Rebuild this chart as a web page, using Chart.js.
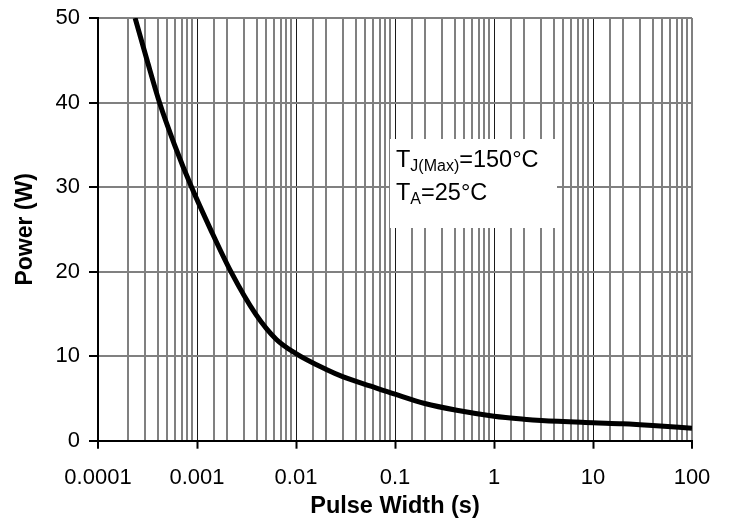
<!DOCTYPE html>
<html>
<head>
<meta charset="utf-8">
<title>Power vs Pulse Width</title>
<script src="https://cdn.jsdelivr.net/npm/chart.js@4.4.0/dist/chart.umd.min.js"></script>
<style>
  html, body { margin: 0; padding: 0; background: #fff; }
</style>
</head>
<body>
<canvas id="grafico" width="729" height="520"></canvas>
<script>
// dados
const pulseWidth = [0.000237, 0.000313, 0.000418, 0.000593, 0.00088, 0.00137, 0.0022, 0.0039, 0.0063, 0.01, 0.02, 0.03, 0.057, 0.1, 0.2, 0.42, 1, 2, 3, 10, 20, 40, 100];
const power      = [50, 45, 40, 35, 30, 25, 20, 15, 12, 10.3, 8.45, 7.55, 6.45, 5.5, 4.4, 3.6, 2.9, 2.55, 2.4, 2.13, 2.0, 1.8, 1.47];

const xTickValues = [0.0001, 0.001, 0.01, 0.1, 1, 10, 100];
const xTickLabels = ['0.0001', '0.001', '0.01', '0.1', '1', '10', '100'];
const yTickLabels = ['0', '10', '20', '30', '40', '50'];

const fonte = "'Liberation Sans', Arial, sans-serif";

// acha o índice da década (ou -1 se for tick menor)
function indiceDecada(v) {
  for (let i = 0; i < xTickValues.length; i++) {
    if (Math.abs(v / xTickValues[i] - 1) < 1e-6) return i;
  }
  return -1;
}

// caixa branca com as condições de teste
const notaPlugin = {
  id: 'nota',
  beforeDatasetsDraw(chart) {
    const ctx = chart.ctx;
    ctx.save();
    ctx.fillStyle = '#fff';
    ctx.fillRect(390, 139, 167, 89);
    ctx.fillStyle = '#000';
    ctx.textBaseline = 'alphabetic';

    function linha(x, y, sub, resto) {
      ctx.font = '23.5px ' + fonte;
      ctx.fillText('T', x, y);
      let w = ctx.measureText('T').width;
      ctx.font = '16px ' + fonte;
      ctx.fillText(sub, x + w, y + 4);
      w += ctx.measureText(sub).width;
      ctx.font = '23.5px ' + fonte;
      ctx.fillText(resto, x + w, y);
    }
    linha(396, 167, 'J(Max)', '=150°C');
    linha(396, 200, 'A', '=25°C');
    ctx.restore();
  }
};

const dados = {
  datasets: [{
    label: 'Power',
    data: pulseWidth.map((x, i) => ({ x: x, y: power[i] })),
    borderColor: '#000',
    borderWidth: 5,
    pointRadius: 0,
    fill: false,
    cubicInterpolationMode: 'monotone'
  }]
};

new Chart(document.getElementById('grafico'), {
  type: 'line',
  data: dados,
  plugins: [notaPlugin],
  options: {
    responsive: false,
    animation: false,
    devicePixelRatio: 1,
    layout: { padding: { left: 0, right: 37, top: 18, bottom: 0 } },
    plugins: { legend: { display: false }, tooltip: { enabled: false } },
    scales: {
      x: {
        type: 'logarithmic',
        min: 0.0001,
        max: 100,
        afterFit(scale) { scale.height = 79.3; },
        border: { color: '#000', width: 2 },
        grid: {
          color: (c) => {
            const i = indiceDecada(c.tick.value);
            return (i > 0 && i < xTickValues.length - 1) ? '#1a1a1a' : '#808080';
          },
          lineWidth: (c) => {
            const i = indiceDecada(c.tick.value);
            return (i > 0 && i < xTickValues.length - 1) ? 1 : 2;
          },
          tickColor: (c) => indiceDecada(c.tick.value) >= 0 ? '#000' : 'rgba(0,0,0,0)',
          tickLength: 8,
          tickWidth: 2
        },
        ticks: {
          autoSkip: false,
          maxRotation: 0,
          padding: 16,
          color: '#000',
          font: { family: fonte, size: 22 },
          callback: (v) => {
            const i = indiceDecada(v);
            return i >= 0 ? xTickLabels[i] : '';
          }
        },
        title: {
          display: true,
          text: 'Pulse Width (s)',
          color: '#000',
          font: { family: fonte, size: 23.5, weight: 'bold', lineHeight: 1 },
          padding: { top: 0, bottom: 2 }
        }
      },
      y: {
        min: 0,
        max: 50,
        afterFit(scale) {
          scale.width = 98;
          scale.paddingTop = 0;
          scale.paddingBottom = 0;
        },
        border: { color: '#000', width: 2 },
        grid: { color: '#808080', lineWidth: 2, tickColor: '#000', tickLength: 9, tickWidth: 2 },
        ticks: {
          stepSize: 10,
          padding: 9,
          color: '#000',
          font: { family: fonte, size: 22 },
          callback: (v) => yTickLabels[Math.round(v / 10)]
        },
        title: {
          display: true,
          text: 'Power (W)',
          color: '#000',
          font: { family: fonte, size: 23, weight: 'bold' },
          padding: { top: 12, bottom: 0 }
        }
      }
    }
  }
});
</script>
</body>
</html>
